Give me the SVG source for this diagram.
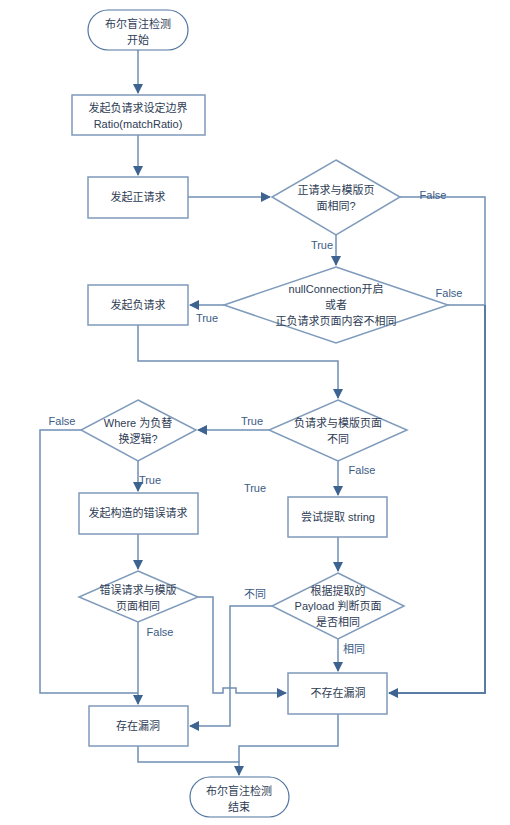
<svg xmlns="http://www.w3.org/2000/svg" width="510" height="825" viewBox="0 0 510 825">
<defs>
<marker id="ah" markerWidth="10" markerHeight="10" refX="9" refY="5" orient="auto" markerUnits="userSpaceOnUse">
<path d="M0,0 L10,5 L0,10 Z" fill="#3d6391"/>
</marker>
<style>
.n{fill:#fff;stroke:#7f9bbb;stroke-width:1.5}
.t{fill:#fff;stroke:#4f74a0;stroke-width:1.2}
.c{fill:none;stroke:#6f8fb3;stroke-width:1.5}
.cd{fill:none;stroke:#5a7ca4;stroke-width:2}
text{font-family:"Liberation Sans","Noto Sans CJK SC",sans-serif;font-size:11px;fill:#2e3c55;text-anchor:middle}
.l{fill:#3b5b86}
</style>
</defs>
<rect width="510" height="825" fill="#fff"/>
<g id="connectors">
<path class="c" d="M138,50 V93" marker-end="url(#ah)"/>
<path class="c" d="M138,135 V175" marker-end="url(#ah)"/>
<path class="c" d="M188,197 H270" marker-end="url(#ah)"/>
<path class="c" d="M400,197 H485 V305"/>
<path class="c" d="M336,235 V265" marker-end="url(#ah)"/>
<path class="c" d="M448,305 H485"/>
<path class="cd" d="M485,305 V693 H389" marker-end="url(#ah)"/>
<path class="c" d="M224,305 H190" marker-end="url(#ah)"/>
<path class="c" d="M138,325 V361 H338 V398" marker-end="url(#ah)"/>
<path class="c" d="M269,430 H198" marker-end="url(#ah)"/>
<path class="c" d="M81,430 H40 V693 H138"/>
<path class="c" d="M138,461 V491" marker-end="url(#ah)"/>
<path class="c" d="M338,461 V495" marker-end="url(#ah)"/>
<path class="c" d="M138,534 V569" marker-end="url(#ah)"/>
<path class="c" d="M138,622 V704" marker-end="url(#ah)"/>
<path class="c" d="M198,597 H213 V693 H223 V688 H236 V693 H286" marker-end="url(#ah)"/>
<path class="c" d="M338,537 V571" marker-end="url(#ah)"/>
<path class="c" d="M338,639 V671" marker-end="url(#ah)"/>
<path class="c" d="M272,606 H230 V726 H190" marker-end="url(#ah)"/>
<path class="c" d="M138,746 V762 H239 V775" marker-end="url(#ah)"/>
<path class="c" d="M338,714 V746 H239 V762"/>
<text class="l" x="433" y="199">False</text>
<text class="l" x="322" y="249">True</text>
<text class="l" x="449" y="297">False</text>
<text class="l" x="207" y="322">True</text>
<text class="l" x="252" y="425">True</text>
<text class="l" x="62" y="425">False</text>
<text class="l" x="150" y="484">True</text>
<text class="l" x="255" y="492">True</text>
<text class="l" x="362" y="474">False</text>
<text class="l" x="160" y="636">False</text>
<text class="l" x="255" y="598">不同</text>
<text class="l" x="354" y="653">相同</text>
</g>
<g id="start"><rect class="t" x="88" y="10" width="100" height="40" rx="20"/><text x="138" y="28">布尔盲注检测</text><text x="138" y="44">开始</text></g>
<g id="setBoundary"><rect class="n" x="72" y="95" width="133" height="40"/><text x="138" y="112">发起负请求设定边界</text><text x="138" y="128">Ratio(matchRatio)</text></g>
<g id="posReq"><rect class="n" x="88" y="177" width="100" height="41"/><text x="138" y="201">发起正请求</text></g>
<g id="dPosSame"><polygon class="n" points="336,160 400,197 336,235 272,197"/><text x="336" y="194">正请求与模版页</text><text x="336" y="210">面相同?</text></g>
<g id="dNullConn"><polygon class="n" points="336,267 448,305 336,343 224,305"/><text x="336" y="293">nullConnection开启</text><text x="336" y="309">或者</text><text x="336" y="325">正负请求页面内容不相同</text></g>
<g id="negReq"><rect class="n" x="88" y="285" width="100" height="40"/><text x="138" y="309">发起负请求</text></g>
<g id="dNegDiff"><polygon class="n" points="338,400 407,430 338,461 269,430"/><text x="338" y="427">负请求与模版页面</text><text x="338" y="443">不同</text></g>
<g id="dWhere"><polygon class="n" points="138,400 196,430 138,461 81,430"/><text x="138" y="427">Where 为负替</text><text x="138" y="443">换逻辑?</text></g>
<g id="errReq"><rect class="n" x="79" y="493" width="119" height="41"/><text x="138" y="517">发起构造的错误请求</text></g>
<g id="extract"><rect class="n" x="288" y="497" width="99" height="40"/><text x="338" y="521">尝试提取 string</text></g>
<g id="dErrSame"><polygon class="n" points="138,571 198,597 138,622 79,597"/><text x="138" y="594">错误请求与模版</text><text x="138" y="610">页面相同</text></g>
<g id="dPayload"><polygon class="n" points="338,573 404,606 338,639 272,606"/><text x="338" y="595">根据提取的</text><text x="338" y="610">Payload 判断页面</text><text x="338" y="626">是否相同</text></g>
<g id="vuln"><rect class="n" x="89" y="706" width="99" height="40"/><text x="138" y="730">存在漏洞</text></g>
<g id="noVuln"><rect class="n" x="288" y="673" width="99" height="41"/><text x="338" y="697">不存在漏洞</text></g>
<g id="end"><rect class="t" x="190" y="777" width="99" height="40" rx="20"/><text x="239" y="795">布尔盲注检测</text><text x="239" y="811">结束</text></g>
</svg>
